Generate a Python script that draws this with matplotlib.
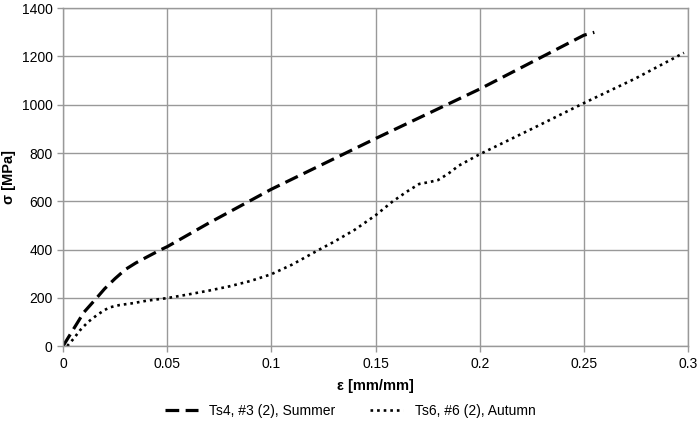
import matplotlib.pyplot as plt

plt.rcParams['font.family'] = ['Liberation Sans', 'DejaVu Sans']

# Ts4, #3 (2), Summer
summer_eps = [0, 0.005, 0.01, 0.0162, 0.02, 0.025, 0.03, 0.035, 0.04, 0.0466, 0.05,
              0.07, 0.1, 0.15, 0.2, 0.25, 0.255]
summer_sig = [0, 70, 140, 200, 238, 280, 318, 345, 368, 398, 412,
              510, 650, 860, 1065, 1288, 1300]

# Ts6, #6 (2), Autumn
autumn_eps = [0.002, 0.005, 0.0082, 0.012, 0.0162, 0.02, 0.0226, 0.027, 0.0336, 0.04,
              0.05, 0.06, 0.07, 0.08, 0.09, 0.1, 0.11, 0.123, 0.13, 0.14, 0.15, 0.158,
              0.165, 0.171, 0.176, 0.18, 0.185, 0.19, 0.2, 0.225, 0.25, 0.275, 0.298]
autumn_sig = [0, 30, 66, 100, 128, 150, 161, 170, 178, 188,
              199, 214, 230, 248, 270, 298, 338, 400, 432, 482, 542, 598,
              640, 672, 680, 688, 715, 748, 795, 900, 1007, 1110, 1215]

x_ticks = [0, 0.05, 0.1, 0.15, 0.2, 0.25, 0.3]
x_labels = ['0', '0.05', '0.1', '0.15', '0.2', '0.25', '0.3']
y_ticks = [0, 200, 400, 600, 800, 1000, 1200, 1400]

fig = plt.figure(figsize=(7, 4.3), dpi=100)
ax = fig.add_axes([0.09, 0.195, 0.893, 0.786])

ax.plot(summer_eps, summer_sig, color='black', lw=2.3,
        linestyle=(0, (4.3, 2.0)), label='Ts4, #3 (2), Summer')
ax.plot(autumn_eps, autumn_sig, color='black', lw=1.9,
        linestyle=(0, (1, 1.5)), label='Ts6, #6 (2), Autumn')

ax.set_xlim(0, 0.3)
ax.set_ylim(0, 1400)
ax.set_xticks(x_ticks)
ax.set_xticklabels(x_labels)
ax.set_yticks(y_ticks)
ax.grid(True, color='#999999', lw=1.0)
ax.set_axisbelow(True)
for s in ax.spines.values():
    s.set_color('#999999')
    s.set_linewidth(1.0)
ax.tick_params(colors='#999999', labelcolor='black', labelsize=10, length=4, width=1.0)

ax.set_xlabel('ε [mm/mm]', fontsize=10.5, fontweight='bold', labelpad=6)
ax.set_ylabel('σ [MPa]', fontsize=10.5, fontweight='bold')
ax.yaxis.set_label_coords(-0.075, 0.5)

fig.legend(loc='lower center', bbox_to_anchor=(0.5, 0.0), ncol=2, frameon=False,
           fontsize=10, handlelength=2.4, columnspacing=2.5)

fig.savefig('out.png', dpi=100)
